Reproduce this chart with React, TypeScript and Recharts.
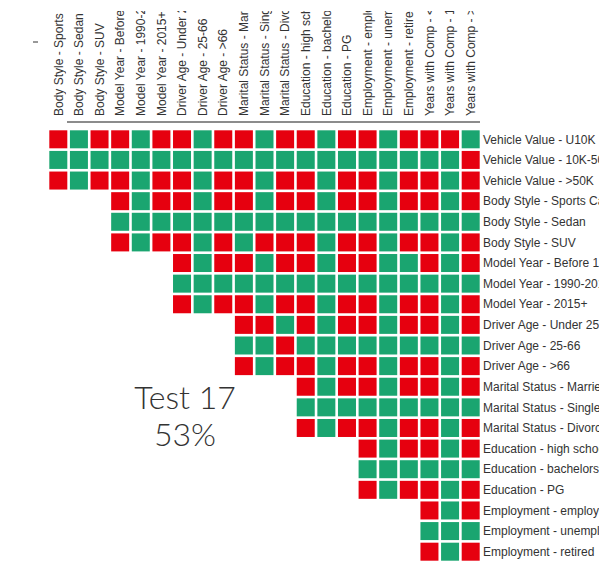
import { ScatterChart, Scatter, XAxis, YAxis } from "recharts"

const colLabels = [
  "Body Style - Sports Car",
  "Body Style - Sedan",
  "Body Style - SUV",
  "Model Year - Before 1990",
  "Model Year - 1990-2015",
  "Model Year - 2015+",
  "Driver Age - Under 25",
  "Driver Age - 25-66",
  "Driver Age - >66",
  "Marital Status - Married",
  "Marital Status - Single",
  "Marital Status - Divorced",
  "Education - high school",
  "Education - bachelors",
  "Education - PG",
  "Employment - employed",
  "Employment - unemployed",
  "Employment - retired",
  "Years with Comp - <1",
  "Years with Comp - 1-5",
  "Years with Comp - >5",
]

const rowLabels = [
  "Vehicle Value - U10K",
  "Vehicle Value - 10K-50K",
  "Vehicle Value - >50K",
  "Body Style - Sports Car",
  "Body Style - Sedan",
  "Body Style - SUV",
  "Model Year - Before 1990",
  "Model Year - 1990-2015",
  "Model Year - 2015+",
  "Driver Age - Under 25",
  "Driver Age - 25-66",
  "Driver Age - >66",
  "Marital Status - Married",
  "Marital Status - Single",
  "Marital Status - Divorced",
  "Education - high school",
  "Education - bachelors",
  "Education - PG",
  "Employment - employed",
  "Employment - unemployed",
  "Employment - retired",
]

// one string per row, one char per column: R = fail, G = pass, . = empty
const rowCodes = [
  "RGRRGRRGRRGRRGRRGRRRG",
  "GGGGGGGGGGGGGGGGGGGGR",
  "RGRRGRRGRRGRRGRRGRRGR",
  "...RGRRGRRGRRGRRGRRGR",
  "...GGGGGGGGGGGGGGGGGG",
  "...RGRRGRGRRRGRRGRRGR",
  "......RGRRGRRGRRGGRGR",
  "......GGGGGGGGGGGGGGG",
  "......RGRRGRRGRRGRRGR",
  ".........RRGRGRRGRRGR",
  ".........GGRGGGGGGGGG",
  ".........RGRRGRRGRRGR",
  "............RGRRGRRGR",
  "............GGGGGGGGG",
  "............RGRRGRRGR",
  "...............RGRRGR",
  "...............GGGGGG",
  "...............RGRRGR",
  "..................RGR",
  "..................GGG",
  "..................RGR",
]

const testName = "Test 17"
const testScore = "53%"

const RED = "#e6000f"
const GREEN = "#1aa570"

const cells = rowCodes.flatMap((code, r) =>
  code.split("").flatMap((ch, c) => (ch === "." ? [] : [{ x: c, y: r, v: ch }]))
)

const colTicks = colLabels.map((_, i) => i)
const rowTicks = rowLabels.map((_, i) => i)

const labelFont = "'Liberation Sans', Arial, sans-serif"

function TopTick(props: any) {
  const { x, y, payload, index } = props
  const id = `col-clip-${index}`
  return (
    <g transform={`translate(${x},${y})`}>
      <clipPath id={id}>
        <rect x={-8} y={-105} width={16} height={112} />
      </clipPath>
      <g clipPath={`url(#${id})`}>
        <text
          transform="rotate(-90)"
          dy="0.35em"
          textAnchor="start"
          fontSize={12}
          fontFamily={labelFont}
          fill="#333"
        >
          {colLabels[payload.value]}
        </text>
      </g>
    </g>
  )
}

function RightTick(props: any) {
  const { x, y, payload } = props
  return (
    <text
      x={x}
      y={y}
      dy="0.35em"
      textAnchor="start"
      fontSize={12}
      fontFamily={labelFont}
      fill="#333"
    >
      {rowLabels[payload.value]}
    </text>
  )
}

function CellShape(props: any) {
  const { cx, cy, payload } = props
  return (
    <rect
      x={cx - 9}
      y={cy - 9}
      width={18}
      height={18}
      fill={payload.v === "R" ? RED : GREEN}
    />
  )
}

export default function App() {
  return (
    <div style={{ position: "fixed", top: 0, left: 0, width: 599, height: 566, background: "#fff", overflow: "hidden" }}>
      <ScatterChart width={599} height={566} margin={{ top: 0, right: 0, bottom: 4, left: 48 }}>
        <XAxis
          type="number"
          dataKey="x"
          orientation="top"
          domain={[-0.5, 20.5]}
          ticks={colTicks}
          interval={0}
          height={129}
          axisLine={false}
          tickLine={false}
          tickSize={0}
          tickMargin={13}
          tick={<TopTick />}
        />
        <YAxis
          type="number"
          dataKey="y"
          orientation="right"
          reversed
          domain={[-0.5, 20.5]}
          ticks={rowTicks}
          interval={0}
          width={118}
          axisLine={false}
          tickLine={false}
          tickSize={0}
          tickMargin={2}
          tick={<RightTick />}
        />
        <Scatter data={cells} shape={<CellShape />} isAnimationActive={false} />
      </ScatterChart>
      <svg
        width={599}
        height={566}
        style={{ position: "absolute", top: 0, left: 0, pointerEvents: "none" }}
      >
        <line x1={67} x2={480} y1={122} y2={122} stroke="#666" strokeWidth={1.5} />
        <line x1={33} x2={38} y1={42} y2={42} stroke="#333" strokeWidth={1} />
        <text
          x={185}
          y={409}
          textAnchor="middle"
          fontSize={32}
          fontFamily="Lato, 'Open Sans', sans-serif"
          fontWeight={300}
          fill="#333"
        >
          {testName}
        </text>
        <text
          x={185}
          y={446}
          textAnchor="middle"
          fontSize={32}
          fontFamily="Lato, 'Open Sans', sans-serif"
          fontWeight={300}
          fill="#333"
        >
          {testScore}
        </text>
      </svg>
    </div>
  )
}
